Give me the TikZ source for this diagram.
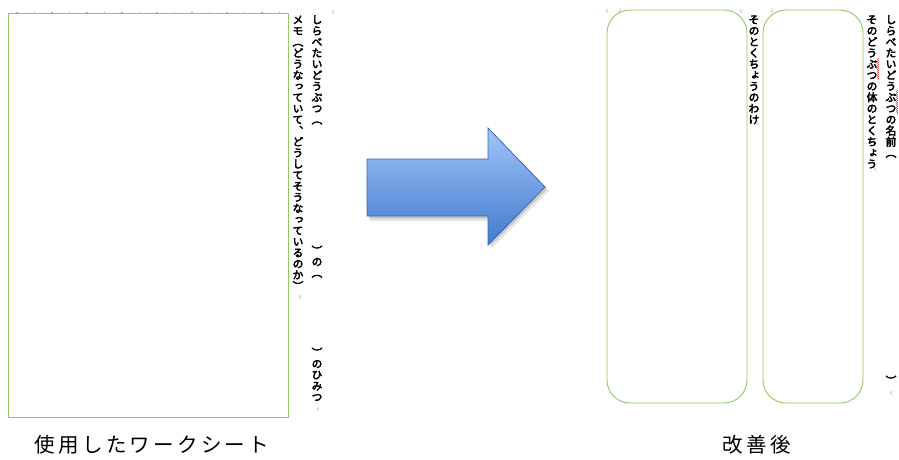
\documentclass[tikz,border=0pt]{standalone}
\usepackage{fontspec}
\usetikzlibrary{decorations.pathmorphing}
\newfontfamily\vjp{Noto Sans CJK JP}[RawFeature=+vert,AutoFakeBold=3.5]
\newfontfamily\jplab{Noto Sans CJK JP}[LetterSpace=16]
\newfontfamily\symf{DejaVu Sans}
\definecolor{boxgreen}{RGB}{146,200,96}
\definecolor{arrowtop}{RGB}{160,196,248}
\definecolor{arrowbot}{RGB}{66,122,206}
\definecolor{arrowline}{RGB}{58,102,172}
\definecolor{markgray}{RGB}{170,170,170}
\makeatletter
\newcommand\vcolumn[1]{\vbox{\offinterlineskip\@tfor\vch:=#1\do{\hbox to 1.1em{\vrule height .88em depth .12em width 0pt\hss\vch\hss}\vskip 0.3pt}}}
\makeatother
\tikzset{
  vtext/.style={anchor=north, inner sep=0pt, font=\vjp\bfseries\fontsize{10.8}{11}\selectfont},
  pmark/.style={inner sep=0pt, text=markgray, rotate=-90, font=\symf\fontsize{5.5}{6}\selectfont},
  label/.style={inner sep=0pt, font=\jplab\fontsize{20.5}{24}\selectfont},
  greenbox/.style={draw=boxgreen, line width=0.9pt},
  spell/.style={draw=red!85!black, line width=0.5pt, decorate, decoration={snake, amplitude=0.5pt, segment length=2pt}}
}
\begin{document}
\begin{tikzpicture}[x=1pt,y=-1pt]
\useasboundingbox (0,0) rectangle (899,460);
\fill[white] (0,0) rectangle (899,460);

% ---------- left worksheet ----------
\foreach \x in {17,34.5,...,285} \fill[markgray] (\x-0.8,11.6) rectangle (\x+0.8,12.6);
\draw[greenbox] (8,13) rectangle (288,417);

\node[vtext] (a1) at (317,14) {\vcolumn{しらべたいどうぶつ（}};
\node[vtext] (a2) at (317,245) {\vcolumn{）の（}};
\node[vtext] (a3) at (317,347) {\vcolumn{）のひみつ}};
\node[vtext] (b1) at (298,14) {\vcolumn{メモ（どうなっていて、どうしてそうなっているのか）}};

\node[pmark] (m1) at (300,298) {↵};
\node[pmark] (m2) at (318,410) {↵};
\node[pmark] (m3) at (333,13) {↵};

% ---------- arrow ----------
\fill[black, opacity=0.10] (370,163) -- (491,163) -- (491,132) -- (549,191) -- (491,249) -- (491,221) -- (370,221) -- cycle;
\fill[black, opacity=0.12] (368.5,161) -- (489.5,161) -- (489.5,130) -- (547,189) -- (489.5,247) -- (489.5,218.5) -- (368.5,218.5) -- cycle;
\shadedraw[top color=arrowtop, bottom color=arrowbot, draw=arrowline, line width=0.8pt, line join=miter]
  (367,159) -- (488,159) -- (488,128) -- (545,187) -- (488,245) -- (488,216) -- (367,216) -- cycle;

% ---------- improved worksheet ----------
\draw[greenbox, rounded corners=23pt] (607,10) rectangle (747,403);
\draw[greenbox, rounded corners=23pt] (763,10) rectangle (863,403);

\node[vtext] (c1) at (754,14) {\vcolumn{そのとくちょうのわけ}};
\node[vtext] (d1) at (872,14) {\vcolumn{そのどうぶつの体のとくちょう}};
\node[vtext] (e1) at (891,14) {\vcolumn{しらべたいどうぶつの名前（}};
\node[vtext] (e2) at (891,375) {\vcolumn{）}};

\draw[spell] (897,90) -- (897,114);
\draw[spell] (878,58) -- (878,80);

\node[inner sep=0pt, text=markgray, font=\symf\fontsize{5}{6}\selectfont] (t0) at (598,12) {:};
\node[pmark] (t1) at (607,12) {↵};
\node[pmark] (t2) at (741,12) {↵};
\node[inner sep=0pt, text=markgray, font=\symf\fontsize{5}{6}\selectfont] (t3) at (620,11) {⚓};
\node[inner sep=0pt, text=markgray, font=\symf\fontsize{5}{6}\selectfont] (t4) at (772,11) {⚓};
\node[pmark] (m4) at (757,124) {↵};
\node[pmark] (m5) at (875,170) {↵};
\node[pmark] (m6) at (891,394) {↵};

% ---------- labels ----------
\node[label] (l1) at (152,445) {使用したワークシート};
\node[label] (l2) at (757,445) {改善後};
\end{tikzpicture}
\end{document}
